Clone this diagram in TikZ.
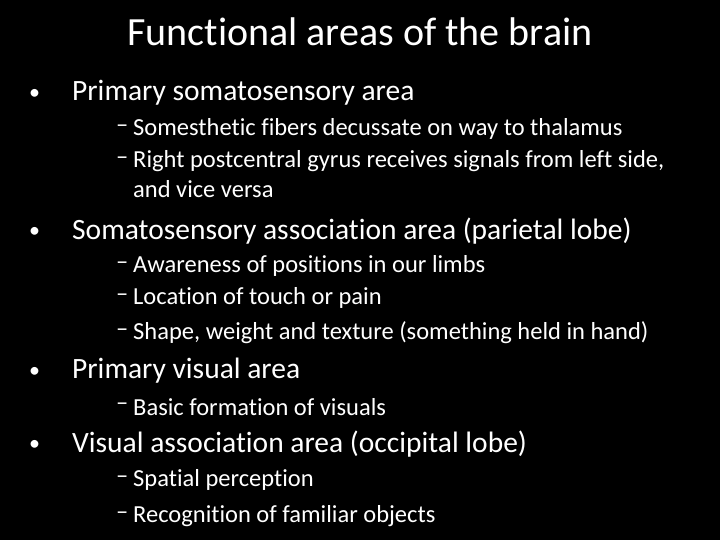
\documentclass[tikz,border=0pt]{standalone}
\usepackage{fontspec}
\setmainfont[Ligatures={NoCommon}]{Carlito}
\begin{document}
\begin{tikzpicture}[x=1pt,y=-1pt,
  every node/.style={text=white,inner sep=0pt,anchor=west},
  ttl/.style={font=\fontsize{40}{44}\selectfont,anchor=center},
  lone/.style={font=\fontsize{29.5}{32}\selectfont},
  ltwo/.style={font=\fontsize{24.5}{28}\selectfont}]
\fill[black] (0,0) rectangle (720,540);
\useasboundingbox (0,0) rectangle (720,540);
\node[ttl] (t) at (360,32) {Functional areas of the brain};
\foreach \y/\s [count=\i] in {93/Primary somatosensory area, 231/Somatosensory association area (parietal lobe), 371/Primary visual area, 444/Visual association area (occipital lobe)}{
  \node[lone,font=\fontsize{22}{24}\selectfont] (b\i) at (29,\y+1) {•};
  \node[lone] (bt\i) at (72,\y) {\s};
}
\foreach \y/\s [count=\i] in {129/Somesthetic fibers decussate on way to thalamus, 161/{Right postcentral gyrus receives signals from left side,}, 266/Awareness of positions in our limbs, 298/Location of touch or pain, 333/{Shape, weight and texture (something held in hand)}, 407/Basic formation of visuals, 480/Spatial perception, 516/Recognition of familiar objects}{
  \node[ltwo] (d\i) at (116,\y) {\textendash};
  \node[ltwo] (dt\i) at (133,\y) {\s};
}
\node[ltwo] (c) at (133,189) {and vice versa};
\end{tikzpicture}
\end{document}
